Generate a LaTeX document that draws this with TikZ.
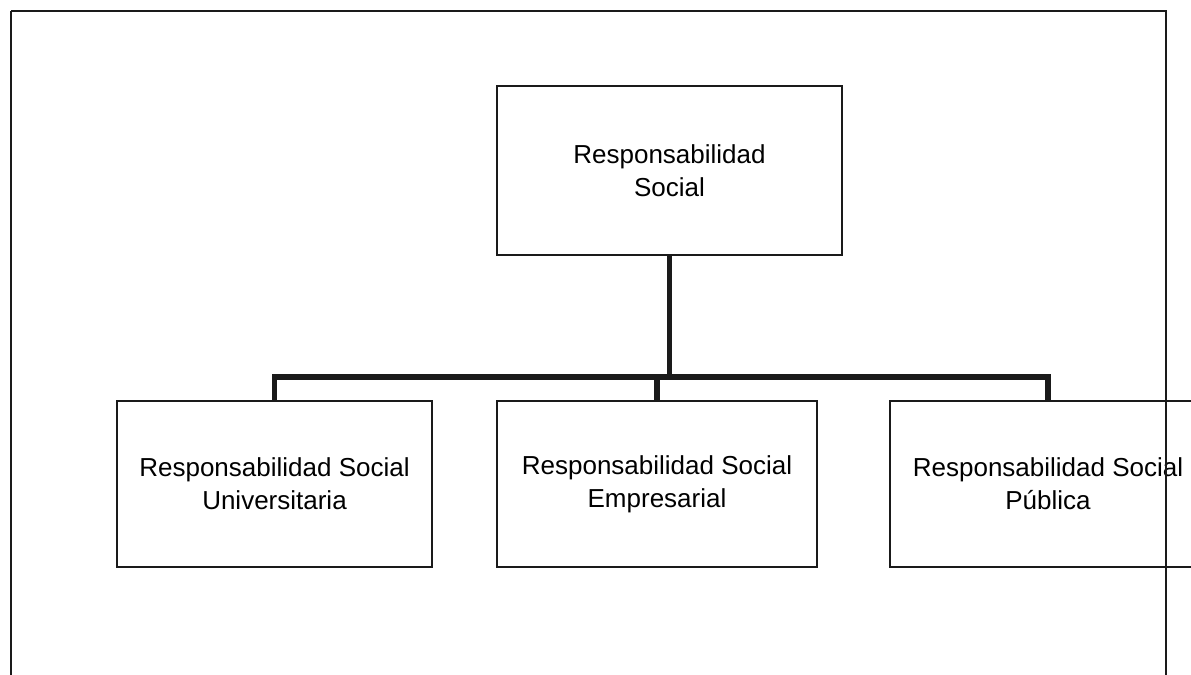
\documentclass[tikz,border=0pt]{standalone}
\usepackage{fontspec}
\setmainfont{Liberation Sans}
\usepackage{tikz}
\usetikzlibrary{positioning,calc}
\definecolor{Ink}{HTML}{1A1A1A}
\tikzset{
  rsbox/.style={draw=Ink,line width=1pt,align=center,font=\fontsize{13}{16.5}\selectfont,inner sep=0pt},
  bus/.style={draw=Ink,line width=2.6pt}
}
\begin{document}
\begin{tikzpicture}[x=0.5pt,y=-0.5pt]
  \clip (0,0) rectangle (1191,675);
  \useasboundingbox (0,0) rectangle (1191,675);
  \node[rsbox,minimum width=172.5pt,minimum height=84.5pt] (rs) at (669.5,170.5) {Responsabilidad\\Social};
  \node[rsbox,minimum width=157.5pt,minimum height=83pt] (rsu) at (274.5,484) {Responsabilidad Social\\Universitaria};
  \node[rsbox,minimum width=160pt,minimum height=83pt] (rse) at (657,484) {Responsabilidad Social\\Empresarial};
  \node[rsbox,minimum width=158pt,minimum height=83pt] (rsp) at (1048,484) {Responsabilidad Social\\Pública};
  \coordinate (hub) at (rs.south |- 0,377);
  \draw[bus] (rs.south) -- (hub);
  \draw[bus,line cap=rect] (rsu.north |- hub) -- (rsp.north |- hub);
  \foreach \b in {rsu,rse,rsp}
    \draw[bus] (\b.north |- hub) -- (\b.north);
  % frame
  \draw[Ink,line width=0.8pt] (11,11) -- (1166,11) -- (1166,690) (11,11) -- (11,690);
\end{tikzpicture}
\end{document}
